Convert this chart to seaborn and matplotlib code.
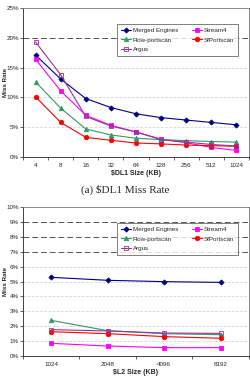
import numpy as np
import matplotlib
matplotlib.use("Agg")
import matplotlib.pyplot as plt
import seaborn as sns

# data
dl1_sizes = ["4", "8", "16", "32", "64", "128", "256", "512", "1024"]
dl1_merged = [17.1, 13.1, 9.8, 8.3, 7.25, 6.6, 6.2, 5.8, 5.4]
dl1_stream4 = [16.4, 11.1, 7.0, 5.3, 4.2, 3.0, 2.4, 1.6, 1.1]
dl1_flow = [12.6, 8.2, 4.7, 3.7, 3.15, 2.9, 2.75, 2.6, 2.5]
dl1_sfport = [10.1, 5.8, 3.3, 2.8, 2.35, 2.2, 2.0, 1.9, 1.8]
dl1_argus = [19.3, 13.8, 6.8, 5.2, 4.2, 2.9, 2.5, 2.1, 1.85]

l2_sizes = ["1024", "2048", "4096", "8192"]
l2_merged = [5.28, 5.08, 4.99, 4.94]
l2_stream4 = [0.85, 0.67, 0.56, 0.56]
l2_flow = [2.39, 1.7, 1.5, 1.43]
l2_sfport = [1.63, 1.5, 1.3, 1.19]
l2_argus = [1.77, 1.68, 1.54, 1.52]

sns.set_style("white")
plt.rcParams['font.family'] = ['Liberation Sans', 'DejaVu Sans']

# name, color, marker, filled
styles = [
    ("Merged Engines", "#000080", "D", True),
    ("Stream4", "#FF00FF", "s", True),
    ("Flow-portscan", "#339966", "^", True),
    ("SfPortscan", "#FF0000", "o", True),
    ("Argus", "#993399", "s", False),
]

fig = plt.figure(figsize=(2.51, 3.82), dpi=100)
ax1 = fig.add_axes([23/251, 1 - 157/382, 226/251, 149/382])
ax2 = fig.add_axes([23/251, 1 - 356/382, 226/251, 149/382])


def draw(ax, sizes, series, ymax, dark_lines, xlabel):
    pos = np.arange(len(sizes))
    for (name, col, mk, filled), vals in zip(styles, series):
        sns.lineplot(x=pos, y=vals, ax=ax, color=col, marker=mk, lw=0.8,
                     markersize=3.2 if mk != "D" else 2.6,
                     markerfacecolor=col if filled else "none",
                     markeredgecolor=col, markeredgewidth=0.6, label=name)
    ax.set_xlim(-0.5, len(sizes) - 0.5)
    ax.set_ylim(0, ymax)
    step = 5 if ymax == 25 else 1
    yt = np.arange(0, ymax + 0.01, step)
    ax.set_yticks(yt)
    ax.set_yticklabels([f"{int(v)}%" for v in yt], fontsize=4.5)
    for v in yt[1:-1]:
        if v in dark_lines:
            ax.axhline(v, color="#555555", lw=0.7, ls=(0, (6, 3)), zorder=0)
        else:
            ax.axhline(v, color="#cccccc", lw=0.5, ls=(0, (4, 2)), zorder=0)
    ax.set_xticks(pos)
    ax.set_xticklabels(sizes, fontsize=4.5)
    ax.set_xticks(np.arange(-0.5, len(sizes)), minor=True)
    ax.tick_params(axis="x", which="major", length=0, pad=4)
    ax.tick_params(axis="x", which="minor", length=2.5, width=0.5, direction="out", bottom=True)
    ax.tick_params(axis="y", length=2, width=0.5, direction="out", left=True, pad=1)
    ax.set_xlabel(xlabel, fontsize=5, fontweight="bold", labelpad=2)
    ax.set_ylabel("Miss Rate", fontsize=4.5, fontweight="bold")
    ax.yaxis.set_label_coords(-0.066, 0.5)
    for sp in ax.spines.values():
        sp.set_color("#777777")
        sp.set_linewidth(0.6)
    ax.spines["left"].set_color("#222222")
    ax.spines["bottom"].set_color("#222222")
    # legend filled row by row like the original
    h, l = ax.get_legend_handles_labels()
    order = [0, 2, 4, 1, 3]
    leg = ax.legend([h[i] for i in order], [l[i] for i in order],
                    loc="upper right", bbox_to_anchor=(0.965, 0.915), ncol=2,
                    fontsize=4.5, frameon=True, fancybox=False, borderpad=0.6,
                    handlelength=1.6, columnspacing=2.2, labelspacing=0.7,
                    handletextpad=0.3)
    leg.get_frame().set_edgecolor("#444444")
    leg.get_frame().set_linewidth(0.6)


draw(ax1, dl1_sizes, [dl1_merged, dl1_stream4, dl1_flow, dl1_sfport, dl1_argus],
     25, [20], r"\$DL1 Size (KB)")
draw(ax2, l2_sizes, [l2_merged, l2_stream4, l2_flow, l2_sfport, l2_argus],
     10, [7, 8, 9], r"\$L2 Size (KB)")

fig.text(0.5, 1 - 190/382, r"(a) \$DL1 Miss Rate", ha="center", va="center",
         fontsize=8, family="Liberation Serif")

fig.savefig("out.png", dpi=100)
